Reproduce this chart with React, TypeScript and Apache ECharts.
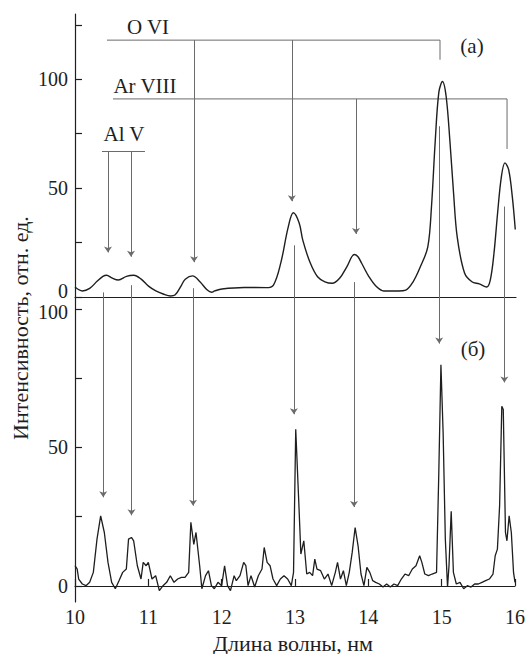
import React, { useEffect, useRef } from "react";
import * as echarts from "echarts";

// Spectrum (а): upper panel
const topX = [10.0, 10.1, 10.2, 10.3, 10.38, 10.43, 10.5, 10.59, 10.7, 10.8, 10.9, 11.0, 11.1, 11.2, 11.3, 11.36, 11.45, 11.5, 11.6, 11.7, 11.8, 11.86, 11.9, 12.0, 12.3, 12.6, 12.7, 12.8, 12.9, 12.97, 13.05, 13.1, 13.2, 13.3, 13.4, 13.5, 13.6, 13.7, 13.8, 13.85, 13.9, 14.0, 14.1, 14.2, 14.4, 14.5, 14.6, 14.7, 14.8, 14.85, 14.9, 14.95, 15.0, 15.05, 15.1, 15.15, 15.2, 15.3, 15.4, 15.5, 15.6, 15.65, 15.7, 15.75, 15.8, 15.85, 15.9, 15.95, 15.99];
const topY = [4.6, 2.8, 4.0, 7.2, 9.5, 10.0, 8.8, 7.8, 9.5, 10.0, 8.2, 5.0, 2.8, 1.4, 0.5, 0.9, 5.5, 8.2, 9.7, 7.0, 3.2, 2.2, 2.8, 3.7, 4.4, 4.3, 5.5, 15.7, 32, 38.7, 34, 26, 15.7, 9.3, 7.0, 6.3, 8.6, 14, 19.5, 18.5, 15.5, 9.3, 4.8, 2.8, 2.8, 3.2, 7.0, 14, 23, 41.5, 71, 94, 99, 92, 72, 48, 27.6, 11, 7.0, 6.0, 4.6, 7.8, 20, 38.7, 55, 61.6, 58.5, 46, 31];

// Spectrum (б): lower panel
const botX = [10.0, 10.03, 10.05, 10.1, 10.15, 10.2, 10.25, 10.3, 10.35, 10.4, 10.45, 10.5, 10.55, 10.6, 10.65, 10.7, 10.73, 10.77, 10.8, 10.85, 10.9, 10.93, 10.97, 11.0, 11.05, 11.1, 11.15, 11.2, 11.25, 11.3, 11.35, 11.4, 11.45, 11.5, 11.55, 11.58, 11.62, 11.65, 11.7, 11.73, 11.78, 11.82, 11.86, 11.9, 11.95, 12.0, 12.04, 12.08, 12.12, 12.17, 12.2, 12.25, 12.3, 12.33, 12.36, 12.4, 12.45, 12.5, 12.55, 12.58, 12.62, 12.66, 12.7, 12.75, 12.8, 12.85, 12.9, 12.95, 12.98, 13.01, 13.05, 13.08, 13.12, 13.16, 13.2, 13.24, 13.27, 13.3, 13.35, 13.4, 13.45, 13.5, 13.55, 13.58, 13.62, 13.66, 13.7, 13.74, 13.78, 13.82, 13.86, 13.9, 13.94, 13.98, 14.02, 14.06, 14.1, 14.15, 14.2, 14.25, 14.3, 14.35, 14.4, 14.45, 14.5, 14.55, 14.6, 14.65, 14.7, 14.73, 14.77, 14.82, 14.87, 14.93, 14.96, 14.99, 15.02, 15.05, 15.08, 15.1, 15.13, 15.16, 15.2, 15.25, 15.3, 15.35, 15.4, 15.45, 15.5, 15.55, 15.6, 15.65, 15.7, 15.73, 15.76, 15.79, 15.82, 15.84, 15.87, 15.89, 15.92, 15.95, 15.98, 16.0];
const botY = [7.3, 6.1, 2.5, 0.7, 0.1, 1.3, 4.9, 16.9, 25.3, 19.3, 8.5, 1.3, -1, 1.9, 4.9, 6.1, 16.9, 17.5, 16.3, 7.3, 2.5, 8.5, 7.3, 8.5, 2.5, 3.7, -1.7, 0.1, 1.3, 3.7, 1.3, 2.5, 3.1, 3.1, 4.9, 23, 15, 19.3, 7.3, -1, 3.7, 5.5, 0.1, -1, 1.3, 0.1, 7.3, 0.1, -1.7, 3.7, 1.9, 3.7, 8.5, 7.3, 0.1, 3.7, -0.4, 3.7, 6.1, 13.9, 8.5, 7.3, 2.5, 0.1, 2.5, 3.7, 2.5, 0.1, 4.9, 56.6, 31.3, 11.5, 16.3, 4.3, 4.9, 3.7, 9.7, 6.1, 5.5, 2.5, 4.3, 0.1, 4.9, 8.5, 2.5, 5.5, 0.1, 4.9, 12.1, 21.1, 14.5, 4.3, 0.1, 6.7, 4.9, 1.9, 1.3, 0.7, -0.4, 0.7, -0.4, 0.7, 0.1, 2.5, 4.3, 3.7, 6.1, 7.3, 10.9, 8.5, 4.3, 3.7, 4.3, 4.9, 39.7, 79.9, 55.3, 16.9, -0.4, 7.3, 27, 4.9, 0.7, 1.3, -1, 0.1, -0.4, 0.7, 0.7, 1.3, 1.9, 2.5, 4.3, 10.9, 13.3, 28.9, 64.9, 63.7, 19.3, 16.3, 25.3, 19.3, 4.9, 1.3];

// Axis ticks
const xTicks = [10, 11, 12, 13, 14, 15, 16];
const topTickValues = [0, 25, 50, 75, 100, 125];
const topLabelValues = [0, 50, 100];
const botTickValues = [0, 25, 50, 75, 100];
const botLabelValues = [0, 50, 100];

// Line identification (upper panel coordinates)
const oviBracket = [[10.435, 118], [14.966, 118], [14.966, 109]];
const arBracket = [[10.517, 91], [15.878, 91], [15.878, 68]];
const alBar = [[10.367, 67], [10.952, 67]];
// [x, from, to] arrows inside upper panel
const topArrows = [
  [11.62, 118, 16],
  [12.95, 118, 44],
  [13.823, 91, 29],
  [10.449, 67, 20.5],
  [10.762, 67, 18.5],
];
// [x, from, to] arrows going to lower panel (lower panel coordinates)
const botArrows = [
  [10.385, 106, 32],
  [10.77, 108.6, 25.5],
  [11.61, 107.5, 29],
  [12.985, 123, 62],
  [13.805, 109.7, 28.5],
  [14.966, 166, 87.5],
  [15.855, 137, 73.5],
];

const FONT = "Liberation Serif";
const ANN = "#6b6b6b";
const INK = "#1e1e1e";
const TICK_FS = 20;

export default function App() {
  const ref = useRef<HTMLDivElement>(null);
  useEffect(() => {
    if (!ref.current) return;
    const chart = echarts.init(ref.current, undefined, { renderer: "svg" });
    const zip = (xs: number[], ys: number[]) => xs.map((x, i) => [x, ys[i]]);

    const arrowLines = (arr: number[][]) =>
      arr.map((a) => ({ coords: [[a[0], a[1]], [a[0], a[2]]] }));

    const txt = (text: string, x: number, y: number, size: number, extra: any = {}) => ({
      type: "text",
      x,
      y,
      ...extra,
      style: {
        text,
        fontFamily: FONT,
        fontSize: size,
        fill: INK,
        align: "center",
        verticalAlign: "middle",
      },
    });

    const option: any = {
      animation: false,
      backgroundColor: "#ffffff",
      textStyle: { fontFamily: FONT },
      grid: [
        { left: 75, right: 12, top: 14, height: 295 },
        { left: 75, right: 12, top: 309, height: 293 },
      ],
      xAxis: [
        {
          gridIndex: 0,
          type: "value",
          min: 10,
          max: 16,
          interval: 1,
          axisLine: { show: true, lineStyle: { color: INK, width: 1.2 } },
          axisTick: { show: false },
          axisLabel: { show: false },
          splitLine: { show: false },
        },
        {
          gridIndex: 1,
          type: "value",
          min: xTicks[0],
          max: xTicks[xTicks.length - 1],
          interval: 1,
          axisLine: { show: true, lineStyle: { color: INK, width: 1.2 } },
          axisTick: { show: true, inside: true, length: 7, lineStyle: { color: INK, width: 1.2 } },
          axisLabel: { show: true, color: INK, fontFamily: FONT, fontSize: TICK_FS, margin: 5 },
          splitLine: { show: false },
        },
      ],
      yAxis: [
        {
          gridIndex: 0,
          type: "value",
          min: -5.5,
          max: 130,
          axisLine: { show: true, lineStyle: { color: INK, width: 1.2 } },
          axisTick: {
            show: true,
            inside: true,
            length: 7,
            customValues: topTickValues,
            lineStyle: { color: INK, width: 1.2 },
          },
          axisLabel: {
            show: true,
            customValues: topLabelValues,
            color: INK,
            fontFamily: FONT,
            fontSize: TICK_FS,
            margin: 7,
            formatter: (v: number) => (v === 0 ? "{z|0}" : "{n|" + v + "}"),
            rich: {
              z: { fontFamily: FONT, fontSize: TICK_FS, color: INK, padding: [0, 0, 12, 0] },
              n: { fontFamily: FONT, fontSize: TICK_FS, color: INK },
            },
          },
          splitLine: { show: false },
        },
        {
          gridIndex: 1,
          type: "value",
          min: -5.8,
          max: 100,
          axisLine: { show: true, lineStyle: { color: INK, width: 1.2 } },
          axisTick: {
            show: true,
            inside: true,
            length: 7,
            customValues: botTickValues,
            lineStyle: { color: INK, width: 1.2 },
          },
          axisLabel: {
            show: true,
            customValues: botLabelValues,
            color: INK,
            fontFamily: FONT,
            fontSize: TICK_FS,
            margin: 7,
            formatter: (v: number) => (v === 100 ? "{h|100}" : "{n|" + v + "}"),
            rich: {
              h: { fontFamily: FONT, fontSize: TICK_FS, color: INK, padding: [6, 0, 0, 0] },
              n: { fontFamily: FONT, fontSize: TICK_FS, color: INK },
            },
          },
          splitLine: { show: false },
        },
      ],
      series: [
        {
          type: "line",
          xAxisIndex: 0,
          yAxisIndex: 0,
          data: zip(topX, topY),
          smooth: 0.35,
          symbol: "none",
          lineStyle: { color: INK, width: 1.4 },
        },
        {
          type: "line",
          xAxisIndex: 1,
          yAxisIndex: 1,
          data: zip(botX, botY),
          symbol: "none",
          lineStyle: { color: INK, width: 1.3 },
        },
        {
          type: "lines",
          coordinateSystem: "cartesian2d",
          xAxisIndex: 0,
          yAxisIndex: 0,
          polyline: true,
          symbol: ["none", "arrow"],
          symbolSize: 6,
          clip: false,
          lineStyle: { color: ANN, width: 1, opacity: 1, curveness: 0 },
          data: [{ coords: oviBracket }, { coords: arBracket }],
        },
        {
          type: "lines",
          coordinateSystem: "cartesian2d",
          xAxisIndex: 0,
          yAxisIndex: 0,
          symbol: ["none", "none"],
          clip: false,
          lineStyle: { color: ANN, width: 1.2, opacity: 1, curveness: 0 },
          data: [{ coords: alBar }],
        },
        {
          type: "lines",
          coordinateSystem: "cartesian2d",
          xAxisIndex: 0,
          yAxisIndex: 0,
          symbol: ["none", "arrow"],
          symbolSize: 6,
          clip: false,
          lineStyle: { color: ANN, width: 1, opacity: 1, curveness: 0 },
          data: arrowLines(topArrows),
        },
        {
          type: "lines",
          coordinateSystem: "cartesian2d",
          xAxisIndex: 1,
          yAxisIndex: 1,
          symbol: ["none", "arrow"],
          symbolSize: 6,
          clip: false,
          lineStyle: { color: ANN, width: 1, opacity: 1, curveness: 0 },
          data: arrowLines(botArrows),
        },
      ],
      graphic: [
        txt("O VI", 148, 27, 21),
        txt("Ar VIII", 145, 86, 21),
        txt("Al V", 124, 134, 21),
        txt("(а)", 472, 46, 21),
        txt("(б)", 473, 349, 21),
        txt("Длина волны, нм", 293, 643, 22),
        txt("Интенсивность, отн. ед.", 20, 328, 22, { rotation: Math.PI / 2 }),
      ],
    };
    chart.setOption(option);
    return () => chart.dispose();
  }, []);
  return <div ref={ref} style={{ width: 528, height: 654, position: "absolute", left: 0, top: 0 }} />;
}
